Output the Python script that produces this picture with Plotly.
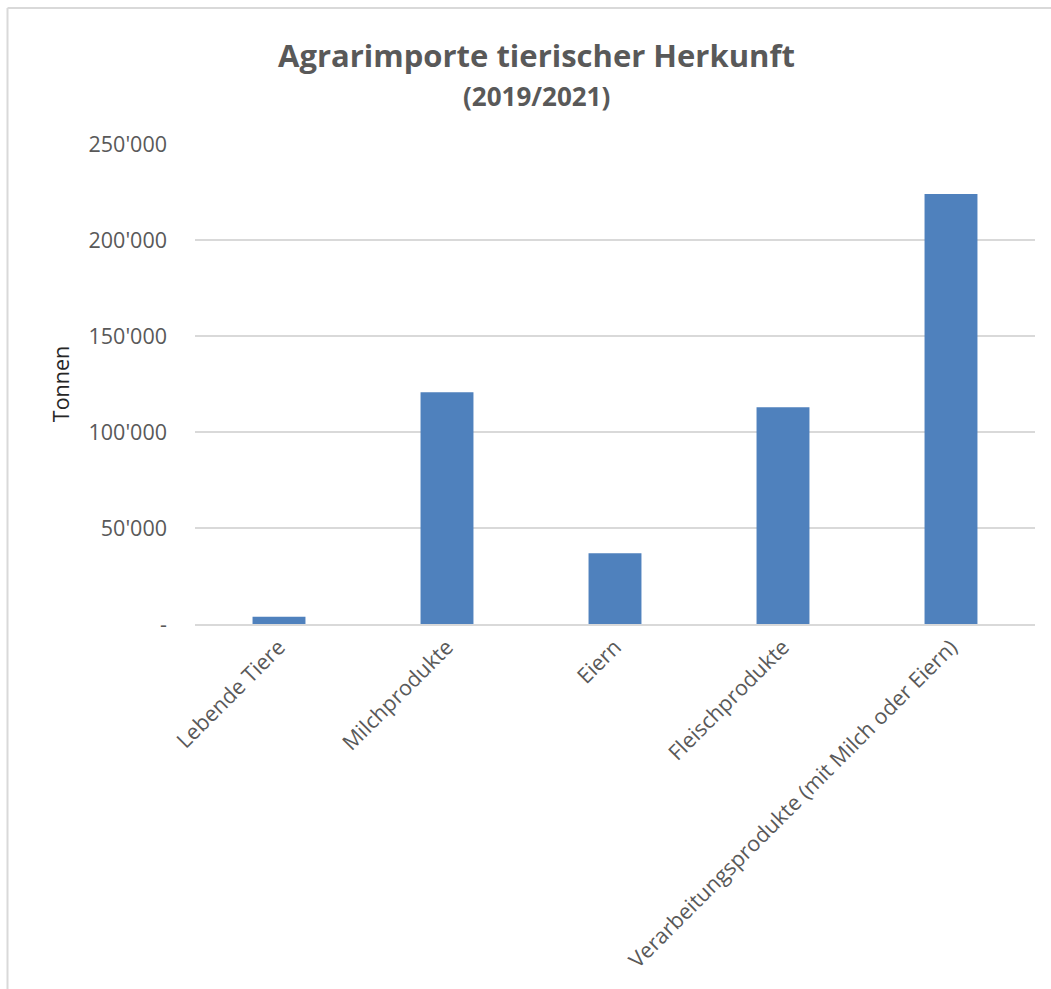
import plotly.graph_objects as go

categories = ["Lebende Tiere", "Milchprodukte", "Eiern", "Fleischprodukte",
              "Verarbeitungsprodukte (mit Milch oder Eiern)"]
values = [3800, 120700, 36900, 112900, 223900]
tick_vals = [0, 50000, 100000, 150000, 200000, 250000]
tick_text = ["-", "50'000", "100'000", "150'000", "200'000", "250'000"]

W, H = 1051, 989
L, R, T, B = 195, 16, 144, 365
pw, ph = W - L - R, H - T - B

def px_x(x):
    return (x - L) / pw

def px_y(y):
    return (H - B - y) / ph

FONT = "Open Sans"
GREY = "#595959"

fig = go.Figure(go.Bar(x=categories, y=values, marker=dict(color="#4F81BD", line=dict(width=0))))

fig.update_layout(
    width=W, height=H,
    margin=dict(l=L, r=R, t=T, b=B, autoexpand=False),
    paper_bgcolor="white", plot_bgcolor="white",
    bargap=0.685,
    showlegend=False,
    font=dict(family=FONT, color=GREY),
    xaxis=dict(tickangle=-45, tickfont=dict(size=21.5, color=GREY, family=FONT),
               showgrid=False, showline=True, linecolor="#D9D9D9", linewidth=2,
               ticks="", zeroline=False),
    yaxis=dict(range=[0, 250000], tickvals=tick_vals, ticktext=tick_text,
               tickfont=dict(size=21.5, color=GREY, family=FONT),
               showgrid=True, gridcolor="#D9D9D9", gridwidth=1.5,
               zeroline=False, ticks="", ticklen=0, ticklabelstandoff=27,
               title=dict(text="Tonnen", font=dict(size=21.5, color="#262626", family=FONT), standoff=12)),
    annotations=[
        dict(text="<b>Agrarimporte tierischer Herkunft</b>", xref="paper", yref="paper",
             x=px_x(536), y=px_y(55), xanchor="center", yanchor="middle", showarrow=False,
             font=dict(size=31, color=GREY, family=FONT)),
        dict(text="<b>(2019/2021)</b>", xref="paper", yref="paper",
             x=px_x(536), y=px_y(96), xanchor="center", yanchor="middle", showarrow=False,
             font=dict(size=26, color=GREY, family=FONT)),
    ],
    shapes=[
        dict(type="line", xref="paper", yref="paper", x0=px_x(7.5), x1=px_x(7.5),
             y0=px_y(8), y1=px_y(H + 5), line=dict(color="#D9D9D9", width=2)),
        dict(type="line", xref="paper", yref="paper", x0=px_x(7.5), x1=px_x(W + 5),
             y0=px_y(8), y1=px_y(8), line=dict(color="#D9D9D9", width=2)),
    ],
)

fig.write_html("out.html", config={"displayModeBar": False},
               post_script="document.body.style.margin='0';")
